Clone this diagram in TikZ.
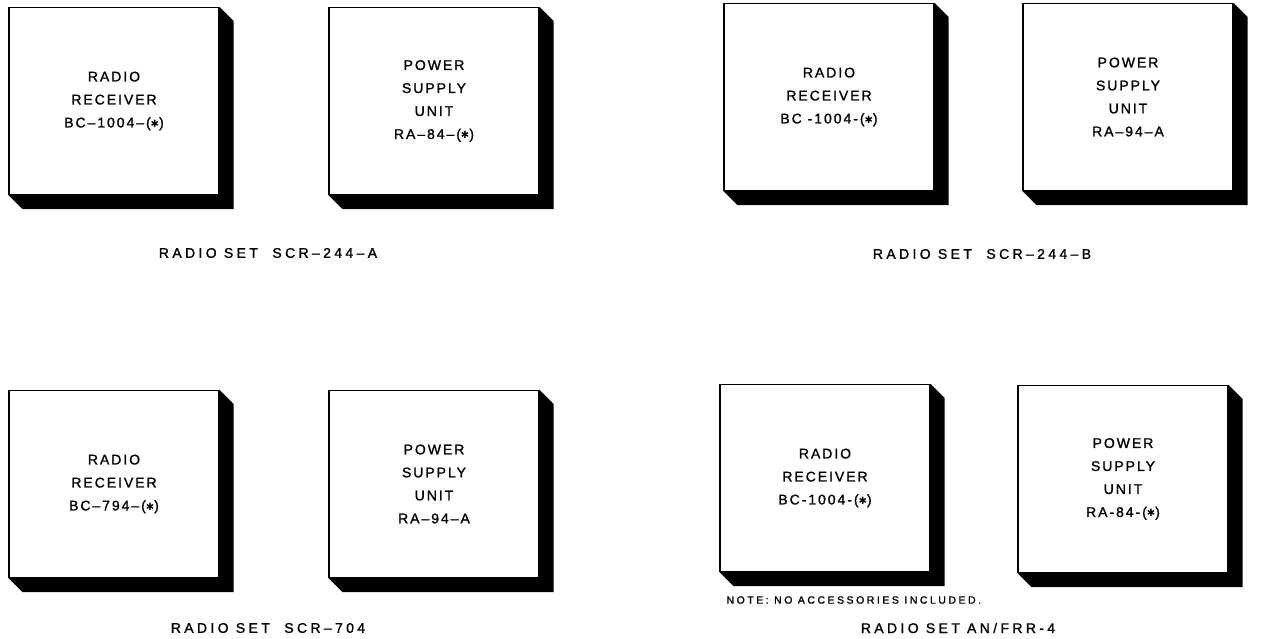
\documentclass[tikz,border=0pt]{standalone}
\usepackage{fontspec}
\usepackage{tikz}
\usetikzlibrary{calc}
\newfontfamily\boxfont[LetterSpace=14,FakeBold=1.2]{Liberation Sans}
\newfontfamily\setfont[LetterSpace=24,FakeBold=1.2]{Liberation Sans}
\newfontfamily\starfont{DejaVu Sans}
\newcommand{\st}{{\starfont\fontsize{10}{10}\selectfont ✱}}

\tikzset{
  unitbox/.style={draw,line width=1.2pt,fill=white,inner sep=0pt,
    minimum width=210pt,minimum height=187pt,align=center,
    font=\boxfont\fontsize{14}{23}\selectfont},
  setlabel/.style={font=\setfont\fontsize{14}{16}\selectfont},
  notelabel/.style={anchor=west,font=\setfont\fontsize{10.5}{12}\selectfont}
}

\begin{document}
\begin{tikzpicture}[x=1pt,y=-1pt]
  \useasboundingbox (0,0) rectangle (1268,639);

  % SCR-244-A
  \node[unitbox] (rxa) at (114,101) {RADIO\\RECEIVER\\BC–1004–(\st)};
  \node[unitbox] (psa) at (434,101) {POWER\\SUPPLY\\UNIT\\RA–84–(\st)};
  \node[setlabel] (seta) at (268,253) {RADIO SET\ \ SCR–244–A};

  % SCR-244-B
  \node[unitbox] (rxb) at (829,97) {RADIO\\RECEIVER\\BC -1004-(\st)};
  \node[unitbox] (psb) at (1128,97) {POWER\\SUPPLY\\UNIT\\RA–94–A};
  \node[setlabel] (setb) at (982,254) {RADIO SET\ \ SCR–244–B};

  % SCR-704
  \node[unitbox] (rxc) at (114,484) {RADIO\\RECEIVER\\BC–794–(\st)};
  \node[unitbox] (psc) at (434,484) {POWER\\SUPPLY\\UNIT\\RA–94–A};
  \node[setlabel] (setc) at (268,628) {RADIO SET\ \ SCR–704};

  % AN/FRR-4
  \node[unitbox] (rxd) at (825,478) {RADIO\\RECEIVER\\BC-1004-(\st)};
  \node[unitbox] (psd) at (1123,479) {POWER\\SUPPLY\\UNIT\\RA-84-(\st)};
  \node[notelabel] (note) at (723,600) {NOTE: NO ACCESSORIES INCLUDED.};
  \node[setlabel] (setd) at (958,628) {RADIO SET AN/FRR-4};

  % shadows
  \foreach \u in {rxa,psa,rxb,psb,rxc,psc,rxd,psd}
    \fill (\u.north east) -- ++(14,14) -- ($(\u.south east)+(14,14)$)
      -- ($(\u.south west)+(14,14)$) -- (\u.south west) -- (\u.south east) -- cycle;
\end{tikzpicture}
\end{document}
